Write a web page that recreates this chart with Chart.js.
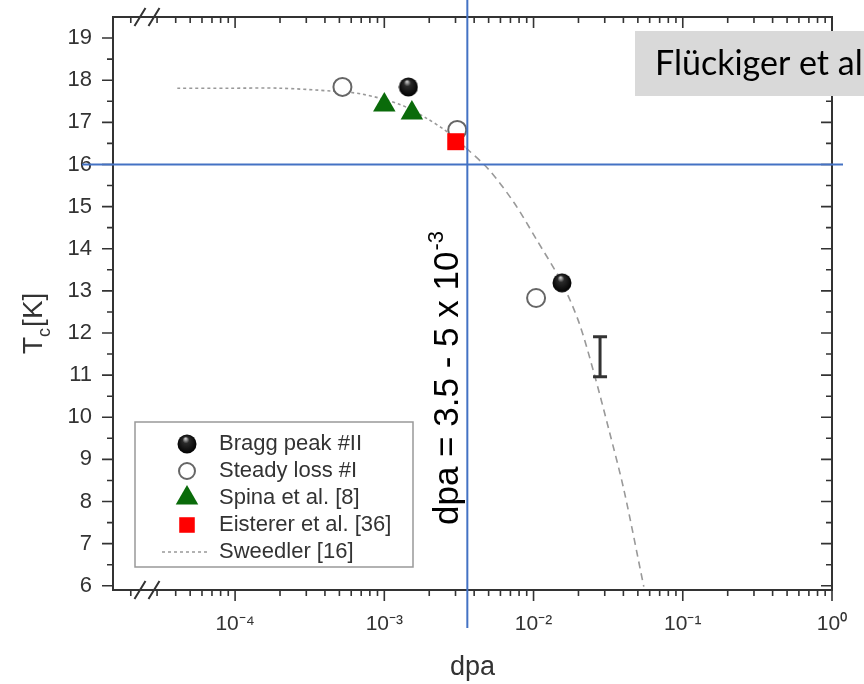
<!DOCTYPE html>
<html lang="en">
<head>
<meta charset="UTF-8">
<title>Tc vs dpa</title>
<script src="https://cdn.jsdelivr.net/npm/chart.js@4.4.1/dist/chart.umd.min.js"></script>
<style>
  html, body { margin: 0; padding: 0; background: #fff; }
  #wrap { width: 864px; height: 684px; position: relative; }
</style>
</head>
<body>
<div id="wrap"><canvas id="tcChart"></canvas></div>
<script>
// values (x = dpa, y = Tc in K)
const braggDpa = [1.45e-3, 1.55e-2];
const braggTc = [17.84, 13.19];
const steadyDpa = [5.24e-4, 3.08e-3, 1.04e-2];
const steadyTc = [17.84, 16.82, 12.83];
const spinaDpa = [1.0e-3, 1.53e-3];
const spinaTc = [17.41, 17.22];
const eistererDpa = [3.01e-3];
const eistererTc = [16.54];
const sweedlerDpa = [4.1e-5, 9.2e-5, 2.0e-4, 4.5e-4, 7.1e-4, 1.26e-3, 1.91e-3, 2.6e-3, 3.53e-3,
                     5.04e-3, 7.41e-3, 1.05e-2, 1.55e-2, 2.02e-2, 2.54e-2, 3.2e-2, 4.03e-2, 5.48e-2];
const sweedlerTc = [17.81, 17.81, 17.81, 17.74, 17.67, 17.43, 17.10, 16.79, 16.39,
                    15.87, 15.09, 14.21, 13.19, 12.24, 11.05, 9.70, 8.28, 5.98];

// error bar drawn beside the curve
const errDpa = [2.79e-2];
const errLow = [10.96];
const errHigh = [11.91];

// marked threshold lines
const markDpa = 3.6e-3;
const markTc = 16;

const xMajorTicks = [1e-4, 1e-3, 1e-2, 1e-1, 1];
const xTickLabels = ['10⁻⁴', '10⁻³', '10⁻²', '10⁻¹', '10⁰'];
const yTickLabels = [6, 7, 8, 9, 10, 11, 12, 13, 14, 15, 16, 17, 18, 19];

const FONT = '"Liberation Sans", Arial, sans-serif';
const INK = '#333';

function pts(xs, ys) {
    return xs.map((v, i) => ({ x: v, y: ys[i] }));
}

// shaded ball used for the Bragg peak points
function makeSphere(d) {
    const c = document.createElement('canvas');
    c.width = d; c.height = d;
    const g = c.getContext('2d');
    const r = d / 2;
    const grad = g.createRadialGradient(r * 0.85, r * 0.45, r * 0.05, r, r, r);
    grad.addColorStop(0, '#c8c8c8');
    grad.addColorStop(0.3, '#2a2a2a');
    grad.addColorStop(1, '#000');
    g.fillStyle = grad;
    g.beginPath();
    g.arc(r, r, r - 0.5, 0, Math.PI * 2);
    g.fill();
    return c;
}
const sphere = makeSphere(20);

// box, ticks and axis breaks
const framePlugin = {
    id: 'frame',
    beforeDatasetsDraw(chart) {
        const { ctx, chartArea: a, scales: { x, y } } = chart;
        ctx.save();
        ctx.strokeStyle = INK;
        ctx.lineWidth = 2;
        ctx.strokeRect(a.left, a.top, a.right - a.left, a.bottom - a.top);
        ctx.lineWidth = 1.6;
        ctx.beginPath();
        x.ticks.forEach(t => {
            const px = x.getPixelForValue(t.value);
            const len = t.major ? 11 : 6;
            ctx.moveTo(px, a.bottom); ctx.lineTo(px, a.bottom + len);
            ctx.moveTo(px, a.top); ctx.lineTo(px, a.top + len);
        });
        y.ticks.forEach(t => {
            const py = y.getPixelForValue(t.value);
            const len = t.major ? 11 : 6;
            ctx.moveTo(a.left, py); ctx.lineTo(a.left - len, py);
            ctx.moveTo(a.right, py); ctx.lineTo(a.right - len, py);
        });
        ctx.stroke();
        // axis break marks
        ctx.lineWidth = 2;
        ctx.beginPath();
        [a.top, a.bottom].forEach(yy => {
            [a.left + 27, a.left + 41].forEach(cx => {
                ctx.moveTo(cx - 5.5, yy + 9);
                ctx.lineTo(cx + 5.5, yy - 9);
            });
        });
        ctx.stroke();
        ctx.restore();
    }
};

// legend box inside the plot
const legendPlugin = {
    id: 'boxLegend',
    afterDatasetsDraw(chart) {
        const { ctx } = chart;
        const bx = 135, by = 422, bw = 278, bh = 145;
        ctx.save();
        ctx.fillStyle = '#fff';
        ctx.fillRect(bx, by, bw, bh);
        ctx.strokeStyle = '#999';
        ctx.lineWidth = 1.5;
        ctx.strokeRect(bx, by, bw, bh);
        ctx.font = '22px ' + FONT;
        ctx.textBaseline = 'middle';
        chart.data.datasets.forEach((ds, i) => {
            const yy = by + 22 + i * 27;
            if (ds.showLine) {
                ctx.strokeStyle = ds.borderColor;
                ctx.lineWidth = ds.borderWidth;
                ctx.setLineDash([3, 3]);
                ctx.beginPath();
                ctx.moveTo(162, yy); ctx.lineTo(208, yy);
                ctx.stroke();
                ctx.setLineDash([]);
            } else {
                ctx.fillStyle = ds.backgroundColor;
                ctx.strokeStyle = ds.borderColor;
                ctx.lineWidth = ds.borderWidth;
                Chart.helpers.drawPoint(ctx, {
                    pointStyle: ds.pointStyle, radius: ds.legendRadius,
                    borderWidth: ds.borderWidth, rotation: 0
                }, 187, yy);
            }
            ctx.fillStyle = INK;
            ctx.fillText(ds.label, 219, yy);
        });
        ctx.restore();
    }
};

// error bar, marker lines and the text notes
const notesPlugin = {
    id: 'notes',
    afterDraw(chart) {
        const { ctx, scales: { x, y } } = chart;
        ctx.save();

        ctx.strokeStyle = INK;
        ctx.lineWidth = 3;
        errDpa.forEach((v, i) => {
            const px = x.getPixelForValue(v);
            const y1 = y.getPixelForValue(errHigh[i]);
            const y2 = y.getPixelForValue(errLow[i]);
            ctx.beginPath();
            ctx.moveTo(px, y1); ctx.lineTo(px, y2);
            ctx.moveTo(px - 7, y1); ctx.lineTo(px + 7, y1);
            ctx.moveTo(px - 7, y2); ctx.lineTo(px + 7, y2);
            ctx.stroke();
        });

        // y axis title with subscript
        ctx.fillStyle = INK;
        ctx.save();
        ctx.translate(42, 354);
        ctx.rotate(-Math.PI / 2);
        ctx.font = '28px ' + FONT;
        ctx.fillText('T', 0, 0);
        let w = ctx.measureText('T').width;
        ctx.font = '18px ' + FONT;
        ctx.fillText('c', w, 8);
        w += ctx.measureText('c').width + 1;
        ctx.font = '28px ' + FONT;
        ctx.fillText('[K]', w, 0);
        ctx.restore();

        // rotated note
        ctx.save();
        ctx.fillStyle = '#000';
        ctx.translate(458, 525);
        ctx.rotate(-Math.PI / 2);
        ctx.font = '35px ' + FONT;
        const main = 'dpa = 3.5 - 5 x 10';
        ctx.fillText(main, 0, 0);
        const mw = ctx.measureText(main).width;
        ctx.font = '22px ' + FONT;
        ctx.fillText('-3', mw + 1, -15);
        ctx.restore();

        // blue marker lines
        ctx.strokeStyle = '#4472C4';
        ctx.lineWidth = 2;
        const hy = y.getPixelForValue(markTc);
        const vx = x.getPixelForValue(markDpa);
        ctx.beginPath();
        ctx.moveTo(82, hy); ctx.lineTo(843, hy);
        ctx.moveTo(vx, 0); ctx.lineTo(vx, 628);
        ctx.stroke();

        // reference label box
        ctx.fillStyle = '#d9d9d9';
        ctx.fillRect(635, 31, 229, 65);
        ctx.fillStyle = '#000';
        ctx.font = '34px Lato, "Open Sans", sans-serif';
        ctx.textBaseline = 'alphabetic';
        ctx.fillText('Flückiger et al', 655, 75);

        ctx.restore();
    }
};

new Chart(document.getElementById('tcChart'), {
    type: 'scatter',
    data: {
        datasets: [
            {
                label: 'Bragg peak #II',
                data: pts(braggDpa, braggTc),
                pointStyle: sphere,
                pointRadius: 10,
                legendRadius: 10,
                backgroundColor: '#000',
                borderColor: '#000',
                borderWidth: 0,
                order: 0
            },
            {
                label: 'Steady loss #I',
                data: pts(steadyDpa, steadyTc),
                pointStyle: 'circle',
                pointRadius: 9,
                legendRadius: 8,
                backgroundColor: '#fff',
                borderColor: '#666',
                borderWidth: 2,
                order: 3
            },
            {
                label: 'Spina et al. [8]',
                data: pts(spinaDpa, spinaTc),
                pointStyle: 'triangle',
                pointRadius: 13,
                legendRadius: 13,
                backgroundColor: '#0a6b0a',
                borderColor: '#0a6b0a',
                borderWidth: 0,
                order: 2
            },
            {
                label: 'Eisterer et al. [36]',
                data: pts(eistererDpa, eistererTc),
                pointStyle: 'rect',
                pointRadius: 12,
                legendRadius: 11,
                backgroundColor: '#f00',
                borderColor: '#f00',
                borderWidth: 0,
                order: 1
            },
            {
                label: 'Sweedler [16]',
                data: pts(sweedlerDpa, sweedlerTc),
                showLine: true,
                pointRadius: 0,
                borderColor: '#999',
                borderWidth: 1.6,
                tension: 0.3,
                segment: {
                    borderDash: c => (c.p0.parsed.x > 3e-3 ? [7, 5] : [3, 3])
                },
                order: 4
            }
        ]
    },
    options: {
        responsive: true,
        maintainAspectRatio: false,
        animation: false,
        devicePixelRatio: 1,
        layout: { padding: { top: 17, right: 32, left: 0, bottom: 0 } },
        plugins: {
            legend: { display: false },
            tooltip: { enabled: false }
        },
        scales: {
            x: {
                type: 'logarithmic',
                min: 1.52e-5,
                max: 1,
                afterFit: s => {
                    s.height = 94;
                    s.paddingLeft = 0; s.paddingRight = 0;
                    s.paddingTop = 0; s.paddingBottom = 0;
                },
                afterBuildTicks: s => {
                    const t = [];
                    for (let e = -5; e <= 0; e++) {
                        for (let m = 1; m <= 9; m++) {
                            const v = m * Math.pow(10, e);
                            if (v >= s.min && v <= s.max * 1.0001) t.push({ value: v, major: m === 1 });
                            if (e === 0) break;
                        }
                    }
                    s.ticks = t;
                },
                grid: { display: false, drawTicks: false },
                border: { display: false },
                ticks: {
                    autoSkip: false,
                    maxRotation: 0,
                    padding: 22,
                    color: INK,
                    font: { family: FONT, size: 21 },
                    callback: v => {
                        const i = xMajorTicks.findIndex(m => Math.abs(m - v) / m < 1e-6);
                        return i >= 0 ? xTickLabels[i] : '';
                    }
                },
                title: {
                    display: true,
                    text: 'dpa',
                    color: INK,
                    font: { family: FONT, size: 27 },
                    padding: { top: 0, bottom: 0 }
                }
            },
            y: {
                type: 'linear',
                min: 5.9,
                max: 19.5,
                afterFit: s => {
                    s.width = 113;
                    s.paddingLeft = 0; s.paddingRight = 0;
                    s.paddingTop = 0; s.paddingBottom = 0;
                },
                afterBuildTicks: s => {
                    const t = [];
                    yTickLabels.forEach(v => {
                        t.push({ value: v, major: true });
                        if (v + 0.5 < s.max) t.push({ value: v + 0.5, major: false });
                    });
                    s.ticks = t;
                },
                grid: { display: false, drawTicks: false },
                border: { display: false },
                ticks: {
                    autoSkip: false,
                    padding: 21,
                    color: INK,
                    font: { family: FONT, size: 22 },
                    callback: v => (Number.isInteger(v) ? String(v) : '')
                },
                title: { display: false }
            }
        }
    },
    plugins: [framePlugin, legendPlugin, notesPlugin]
});
</script>
</body>
</html>
